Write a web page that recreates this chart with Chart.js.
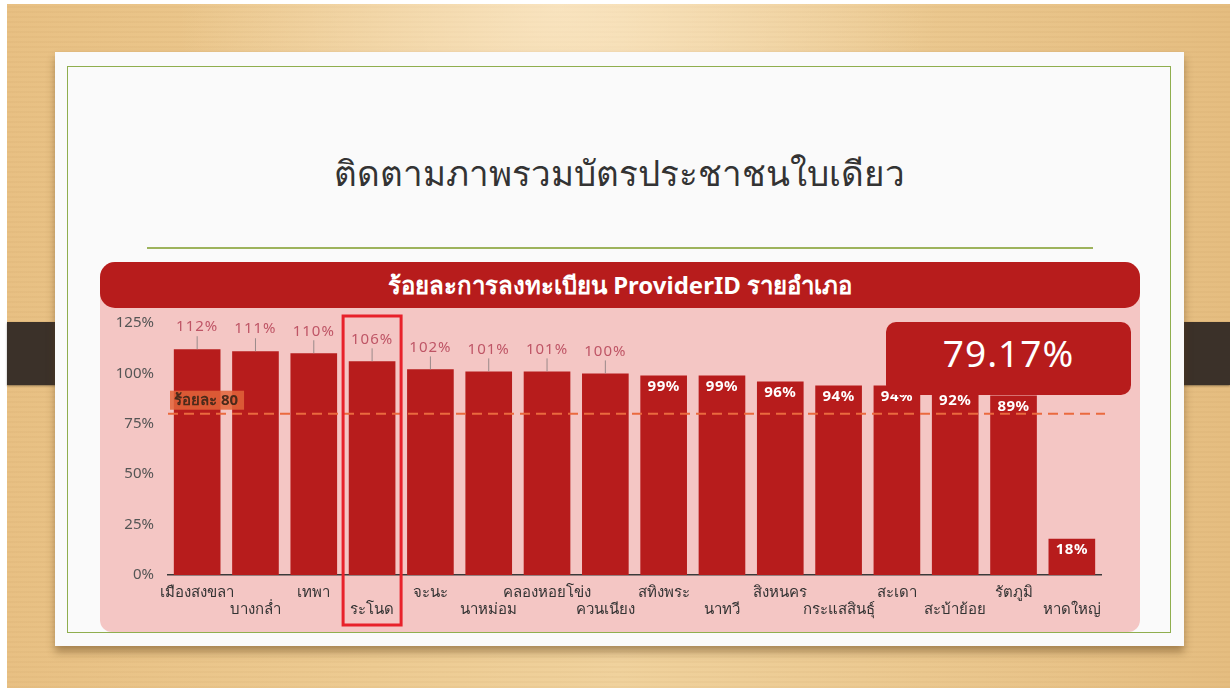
<!DOCTYPE html>
<html lang="th">
<head>
<meta charset="utf-8">
<script src="https://cdn.jsdelivr.net/npm/chart.js@4"></script>
<style>
  html, body { margin: 0; padding: 0; }
  body {
    width: 1230px; height: 688px; position: relative; overflow: hidden;
    background: #fff;
    font-family: "Noto Sans", "DejaVu Sans", sans-serif;
  }
  .wood {
    position: absolute; left: 7px; top: 4px; right: 0; bottom: 0;
    background:
      radial-gradient(ellipse at 45% 0%, rgba(255,240,215,0.6) 0%, rgba(255,240,215,0) 40%),
      repeating-linear-gradient(0deg, rgba(160,110,50,0.05) 0 2px, rgba(255,255,255,0) 2px 5px),
      linear-gradient(90deg, #e8c083 0%, #edcb92 30%, #f0d29d 50%, #ebc88f 75%, #e5bd80 100%);
  }
  .slide {
    position: absolute; left: 55px; top: 52px; width: 1129px; height: 594px;
    background: #fafafa;
    box-shadow: 0 6px 8px rgba(90,60,20,0.45);
  }
  .frame {
    position: absolute; left: 12px; top: 14px; width: 1104px; height: 567px;
    border: 1.5px solid #8fae4e; box-sizing: border-box;
  }
  .title {
    position: absolute; left: 0; width: 100%; top: 94px;
    text-align: center; font-size: 35px; color: #333; font-weight: 300;
    font-family: "Noto Sans", "DejaVu Sans", sans-serif;
  }
  .rule {
    position: absolute; left: 92px; top: 195px; width: 946px; height: 2px;
    background: #9db35c;
  }
  .panel {
    position: absolute; left: 100px; top: 262px; width: 1040px; height: 370px;
    background: #f4c6c4; border-radius: 15px 15px 12px 12px;
  }
  .head {
    position: absolute; left: 100px; top: 262px; width: 1040px; height: 46px;
    background: #b71c1c; border-radius: 15px;
    color: #fff; font-weight: bold; font-size: 24px;
    display: flex; align-items: center; justify-content: center;
  }
  #wrap { position: absolute; left: 100px; top: 308px; width: 1040px; height: 324px; }
  .total {
    position: absolute; left: 886px; top: 322px; width: 245px; height: 73px;
    background: #b71c1c; border-radius: 10px;
    color: #fff; font-size: 37px; text-align: center; line-height: 62px;
    letter-spacing: 1px;
  }
  .clip {
    position: absolute; top: 322px; height: 63px; background: #3b3129;
    box-shadow: 0 1px 2px rgba(0,0,0,0.4);
  }
</style>
</head>
<body>
<div class="wood"></div>
<div class="clip" style="left:7px;width:75px;border-radius:0 4px 4px 0;"></div>
<div class="clip" style="left:1157px;width:73px;border-radius:4px 0 0 4px;"></div>
<div class="slide">
  <div class="frame"></div>
  <div class="title">ติดตามภาพรวมบัตรประชาชนใบเดียว</div>
  <div class="rule"></div>
</div>
<div class="panel"></div>
<div class="head">ร้อยละการลงทะเบียน ProviderID รายอำเภอ</div>
<div id="wrap"><canvas id="districtChart"></canvas></div>
<div class="total" id="total"></div>

<script>
const districts = ["เมืองสงขลา", "บางกล่ำ", "เทพา", "ระโนด", "จะนะ", "นาหม่อม", "คลองหอยโข่ง", "ควนเนียง",
  "สทิงพระ", "นาทวี", "สิงหนคร", "กระแสสินธุ์", "สะเดา", "สะบ้าย้อย", "รัตภูมิ", "หาดใหญ่"];
const percents = [112, 111, 110, 106, 102, 101, 101, 100, 99, 99, 96, 94, 94, 92, 89, 18];
const yTicks = [0, 25, 50, 75, 100, 125];
const target = 80;
const targetLabel = "ร้อยละ 80";
const overall = "79.17%";
const highlightIndex = 3;

document.getElementById("total").textContent = overall;

// staggered labels: even on first line, odd on second
const tickLabels = districts.map((d, i) => i % 2 === 0 ? [d, ""] : ["", d]);

const overlay = {
  id: "overlay",
  afterDatasetsDraw(chart) {
    const ctx = chart.ctx;
    const bars = chart.getDatasetMeta(0).data;
    const y = chart.scales.y;
    const area = chart.chartArea;

    ctx.save();
    ctx.textAlign = "center";
    ctx.textBaseline = "middle";
    bars.forEach((bar, i) => {
      const v = percents[i];
      if (v >= 100) {
        ctx.strokeStyle = "#9a8a8a";
        ctx.lineWidth = 1;
        ctx.beginPath();
        ctx.moveTo(bar.x, bar.y);
        ctx.lineTo(bar.x, bar.y - 13);
        ctx.stroke();
        ctx.fillStyle = "#bf5566";
        ctx.letterSpacing = "1px";
        ctx.font = "15px 'Noto Sans', 'DejaVu Sans', sans-serif";
        ctx.fillText(v + "%", bar.x, bar.y - 22);
      } else {
        ctx.fillStyle = "#fff";
        ctx.letterSpacing = "0.5px";
        ctx.font = "bold 15px 'Noto Sans', 'DejaVu Sans', sans-serif";
        ctx.fillText(v + "%", bar.x, bar.y + 11);
      }
    });
    ctx.letterSpacing = "0px";

    // target line
    const ty = y.getPixelForValue(target);
    ctx.strokeStyle = "#ea6a3e";
    ctx.lineWidth = 2;
    ctx.setLineDash([10, 6]);
    ctx.beginPath();
    ctx.moveTo(area.left, ty);
    ctx.lineTo(area.right + 4, ty);
    ctx.stroke();
    ctx.setLineDash([]);

    ctx.font = "bold 15px 'Noto Sans', 'DejaVu Sans', sans-serif";
    const tw = ctx.measureText(targetLabel).width + 10;
    ctx.fillStyle = "rgba(226, 100, 58, 0.85)";
    ctx.fillRect(area.left + 2, ty - 23, tw, 19);
    ctx.fillStyle = "#4a2a1a";
    ctx.textAlign = "left";
    ctx.fillText(targetLabel, area.left + 6, ty - 13);

    // highlighted district
    const hb = bars[highlightIndex];
    ctx.strokeStyle = "#e8212a";
    ctx.lineWidth = 3;
    ctx.strokeRect(hb.x - 29, area.top - 7, 58, area.bottom - area.top + 57);
    ctx.restore();
  }
};

new Chart(document.getElementById("districtChart"), {
  type: "bar",
  data: {
    labels: tickLabels,
    datasets: [{
      data: percents,
      backgroundColor: "#b71c1c",
      categoryPercentage: 0.8,
      barPercentage: 1.0
    }]
  },
  options: {
    responsive: true,
    maintainAspectRatio: false,
    animation: false,
    layout: { padding: { top: 8, right: 39, left: 0, bottom: 0 } },
    plugins: {
      legend: { display: false },
      tooltip: { enabled: false }
    },
    scales: {
      x: {
        grid: { display: false },
        border: { display: true, color: "#3a3a3a", width: 1.5 },
        ticks: {
          color: "#333",
          autoSkip: false,
          maxRotation: 0,
          padding: 1,
          font: { size: 15, lineHeight: 1.15, family: "'Noto Sans', 'DejaVu Sans', sans-serif" }
        },
        afterFit(scale) { scale.height = 57; }
      },
      y: {
        min: 0,
        max: 125,
        grid: { display: false },
        border: { display: false },
        afterBuildTicks(scale) { scale.ticks = yTicks.map(v => ({ value: v })); },
        ticks: {
          color: "#555",
          padding: 6,
          font: { size: 15, family: "'Noto Sans', 'DejaVu Sans', sans-serif" },
          callback: v => v + "%"
        },
        afterFit(scale) { scale.width = 68; }
      }
    }
  },
  plugins: [overlay]
});
</script>
</body>
</html>
